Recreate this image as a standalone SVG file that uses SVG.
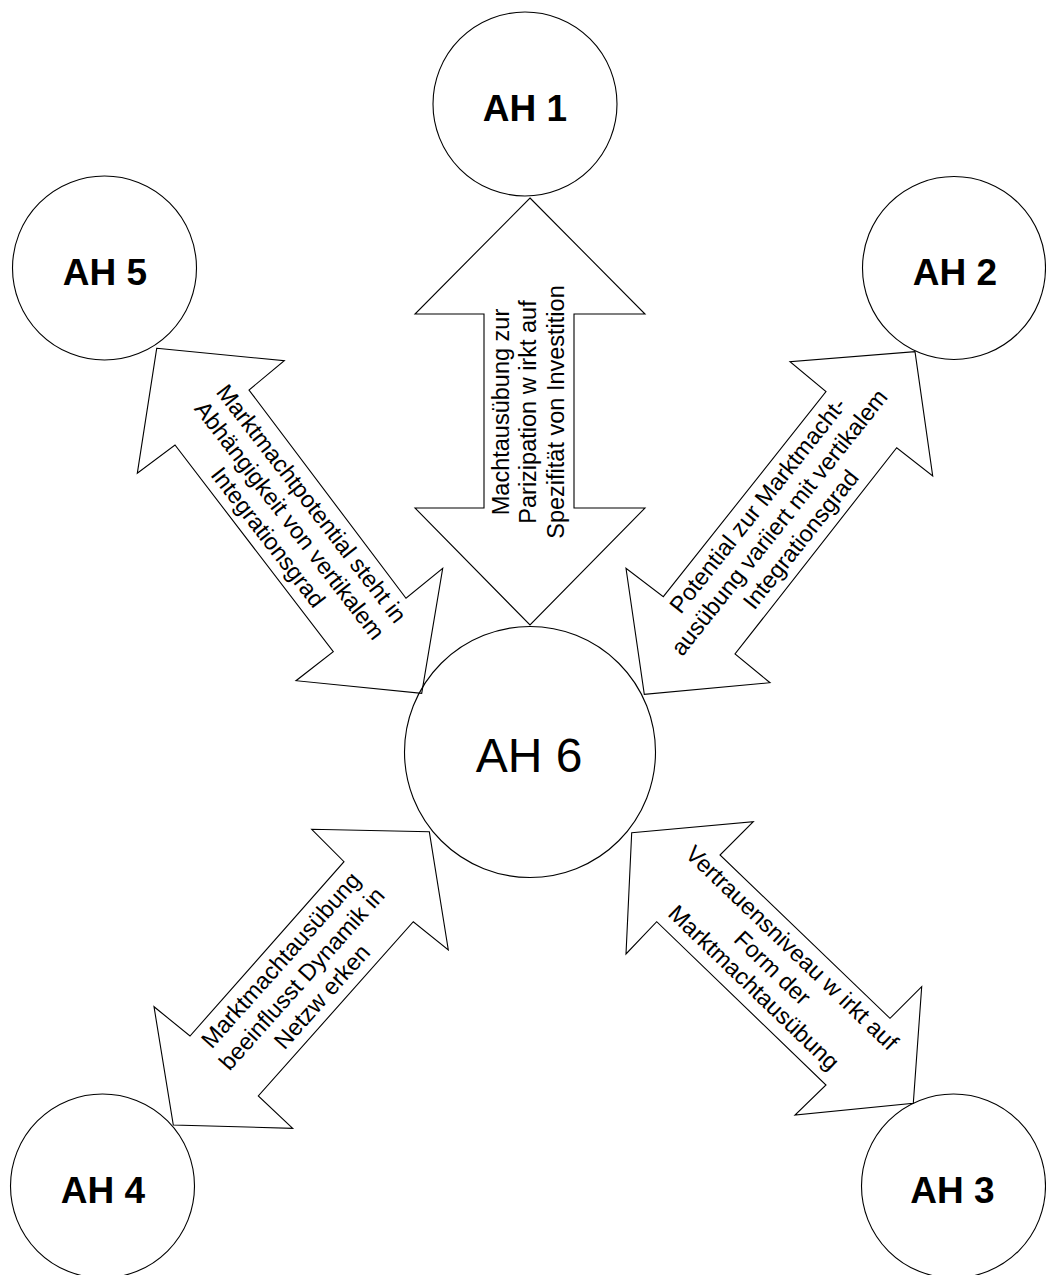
<svg xmlns="http://www.w3.org/2000/svg" width="1046" height="1275" viewBox="0 0 1046 1275">
<style>
  .node circle { fill: none; stroke: #000000; stroke-width: 1.1; }
  .lbl { font-family: "Liberation Sans", Arial, sans-serif; font-weight: bold; font-size: 37px; fill: #000; text-anchor: middle; }
  .lbl6 { font-family: "Liberation Sans", Arial, sans-serif; font-size: 48px; fill: #000; text-anchor: middle; }
  .arrow polygon { fill: #ffffff; stroke: #000000; stroke-width: 1.1; stroke-linejoin: miter; }
  .atext { font-family: "Liberation Sans", Arial, sans-serif; font-size: 23.5px; fill: #000; text-anchor: middle; }
</style>
<rect x="0" y="0" width="1046" height="1275" fill="#ffffff"/>

<g id="connectors">
  <g id="arrow-AH1-AH6" class="arrow">
    <polygon points="530,198 645,314 574,314 574,508 645,508 530,625 415,508 484,508 484,314 415,314"/>
    <g class="atext" transform="translate(530,412) rotate(-90)">
      <text x="0" y="-21.5">Machtausübung zur</text>
      <text x="0" y="6">Parizipation w irkt auf</text>
      <text x="0" y="33.5">Spezifität von Investition</text>
    </g>
  </g>
  <g id="arrow-AH5-AH6" class="arrow">
    <polygon points="156.7,348.3 284.3,360.7 249,390 406,598.3 442.7,568.3 421.7,693.3 296,680.7 333.3,651.7 175,445 137.3,473.3"/>
    <g class="atext" transform="translate(289,521) rotate(52.3)">
      <text x="0" y="-20.5">Marktmachtpotential steht in</text>
      <text x="0" y="7">Abhängigkeit von vertikalem</text>
      <text x="0" y="34.5">Integrationsgrad</text>
    </g>
  </g>
  <g id="arrow-AH2-AH6" class="arrow">
    <polygon points="915,351.7 932.7,476 896.7,447.7 735,654 770,682.7 644.3,694.3 626,568.3 663.3,596.7 826,391.7 790,361.7"/>
    <g class="atext" transform="translate(780,523) rotate(-51.5)">
      <text x="0" y="-20.5">Potential zur Marktmacht-</text>
      <text x="0" y="7">ausübung variiert mit vertikalem</text>
      <text x="0" y="34.5">Integrationsgrad</text>
    </g>
  </g>
  <g id="arrow-AH4-AH6" class="arrow">
    <polygon points="429.3,831.7 448.3,950 413.3,921.7 258.3,1096 292.7,1128.3 173.3,1125 154,1006.7 190,1036 344,861.7 311.7,829.3"/>
    <g class="atext" transform="translate(301,978) rotate(-48.3)">
      <text x="0" y="-19">Marktmachtausübung</text>
      <text x="0" y="9">beeinflusst Dynamik in</text>
      <text x="0" y="36">Netzw erken</text>
    </g>
  </g>
  <g id="arrow-AH3-AH6" class="arrow">
    <polygon points="631.7,832.7 753.3,821.7 720,855 890,1018.3 921.7,986.7 913.3,1103.3 795,1115 826,1085 656.7,921.7 626,954"/>
    <g class="atext" transform="translate(772.5,968) rotate(43.8)">
      <text x="0" y="-20">Vertrauensniveau w irkt auf</text>
      <text x="0" y="8">Form der</text>
      <text x="0" y="35">Marktmachtausübung</text>
    </g>
  </g>
</g>

<g id="AH1" class="node"><circle cx="525" cy="104" r="92"/><text class="lbl" x="525" y="121">AH 1</text></g>
<g id="AH5" class="node"><circle cx="104.5" cy="268" r="92"/><text class="lbl" x="105" y="285">AH 5</text></g>
<g id="AH2" class="node"><circle cx="954" cy="268" r="91.5"/><text class="lbl" x="955" y="285">AH 2</text></g>
<g id="AH4" class="node"><circle cx="102.5" cy="1186" r="92"/><text class="lbl" x="103" y="1203">AH 4</text></g>
<g id="AH3" class="node"><circle cx="953.5" cy="1186" r="92"/><text class="lbl" x="952.5" y="1203">AH 3</text></g>
<g id="AH6" class="node"><circle cx="530" cy="752" r="125.5"/><text class="lbl6" x="529" y="771.5">AH 6</text></g>
</svg>
